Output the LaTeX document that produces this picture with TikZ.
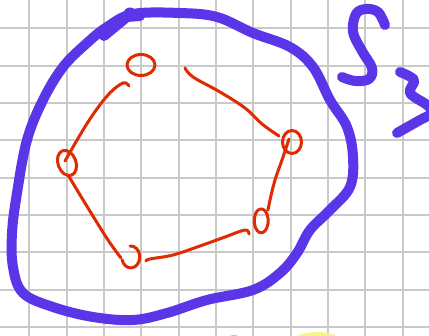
\documentclass[tikz,border=0pt]{standalone}
\usetikzlibrary{calc}
\definecolor{pen}{HTML}{5B36E8}
\definecolor{ink}{HTML}{E02A00}
\definecolor{gridc}{HTML}{C9C9C9}
\definecolor{salmonc}{HTML}{F3A690}
\definecolor{yellowc}{HTML}{F8F48C}
\begin{document}
\begin{tikzpicture}[x=1pt,y=-1pt,
  gridline/.style={gridc,line width=1.8pt},
  bigpen/.style={pen,line width=10pt,line cap=round,line join=round},
  redpen/.style={ink,line width=3pt,line cap=round,line join=round}]
\useasboundingbox (0,0) rectangle (429,336);
\begin{scope}
\clip (0,0) rectangle (429,336);
\fill[white] (0,0) rectangle (429,336);
\foreach \i in {0,...,10} \draw[gridline] ({29.3+37.33*\i},0) -- ({29.3+37.33*\i},336);
\foreach \j in {0,...,8} \draw[gridline] (0,{28.3+37.33*\j}) -- (429,{28.3+37.33*\j});
\fill[salmonc] (234,346) circle (11);
\fill[yellowc] (317,360) ellipse (40 and 28);
% big purple loop
\draw[bigpen] plot[smooth cycle,tension=0.6] coordinates {
 (133,14) (180,13) (217,17) (253,33) (290,47) (313,67) (330,100) (347,127)
 (353,157) (350,187) (330,210) (310,230) (297,253) (280,273) (253,290)
 (207,300) (167,313) (133,320) (93,317) (53,307) (23,293) (13,267) (12,233)
 (17,193) (27,140) (43,100) (63,67) (87,43) (107,27)};
\draw[bigpen] (104,36) -- (127,17) -- (140,16);
\fill[pen] (130,14) circle (6.5);
% S_3
\draw[bigpen] plot[smooth,tension=0.6] coordinates {
 (385,25) (378,12) (366,9) (356,14) (353,32) (362,51) (372,68) (369,79) (355,81) (342,77)};
\draw[bigpen] plot[smooth,tension=0.6] coordinates {
 (400,72) (414,80) (410,93) (427,105) (432,113) (420,120) (397,133)};
\end{scope}
% vertices
\coordinate (t) at (141,65);
\coordinate (r) at (292,142);
\coordinate (q) at (262,221);
\coordinate (b) at (131,257);
\coordinate (l) at (67,163);
\draw[redpen] (t) ellipse (14 and 10.5);
\draw[redpen] (r) ellipse (9.5 and 11.5);
\draw[redpen] ($(q)+(-2,-12)$) arc (-100:250:7 and 12);
\draw[redpen] ($(b)+(-1,-11)$) arc (-95:165:9 and 11);
\draw[redpen,rotate around={20:(l)}] (l) ellipse (9 and 13);
% edges
\draw[redpen] plot[smooth,tension=0.6] coordinates {
 ($(t)+(-12,21)$) ($(t)+(-18,18)$) (108,95) (88,122) ($(l)+(-2,-2)$)};
\draw[redpen] plot[smooth,tension=0.6] coordinates {
 ($(t)+(44,3)$) (193,77) (220,92) (245,108) (262,124) ($(r)+(-13,-6)$)};
\draw[redpen] plot[smooth,tension=0.6] coordinates {
 ($(r)+(-3,-3)$) (282,160) (275,180) (270,200) ($(q)+(6,-11)$)};
\draw[redpen] plot[smooth,tension=0.6] coordinates {
 ($(q)+(-13,13)$) ($(q)+(-17,9)$) (225,237) (200,246) (173,255) (150,259) ($(b)+(15,4)$)};
\draw[redpen] plot[smooth,tension=0.6] coordinates {
 ($(l)+(1,12)$) (88,208) (108,240) ($(b)+(-10,1)$)};
\end{tikzpicture}
\end{document}
